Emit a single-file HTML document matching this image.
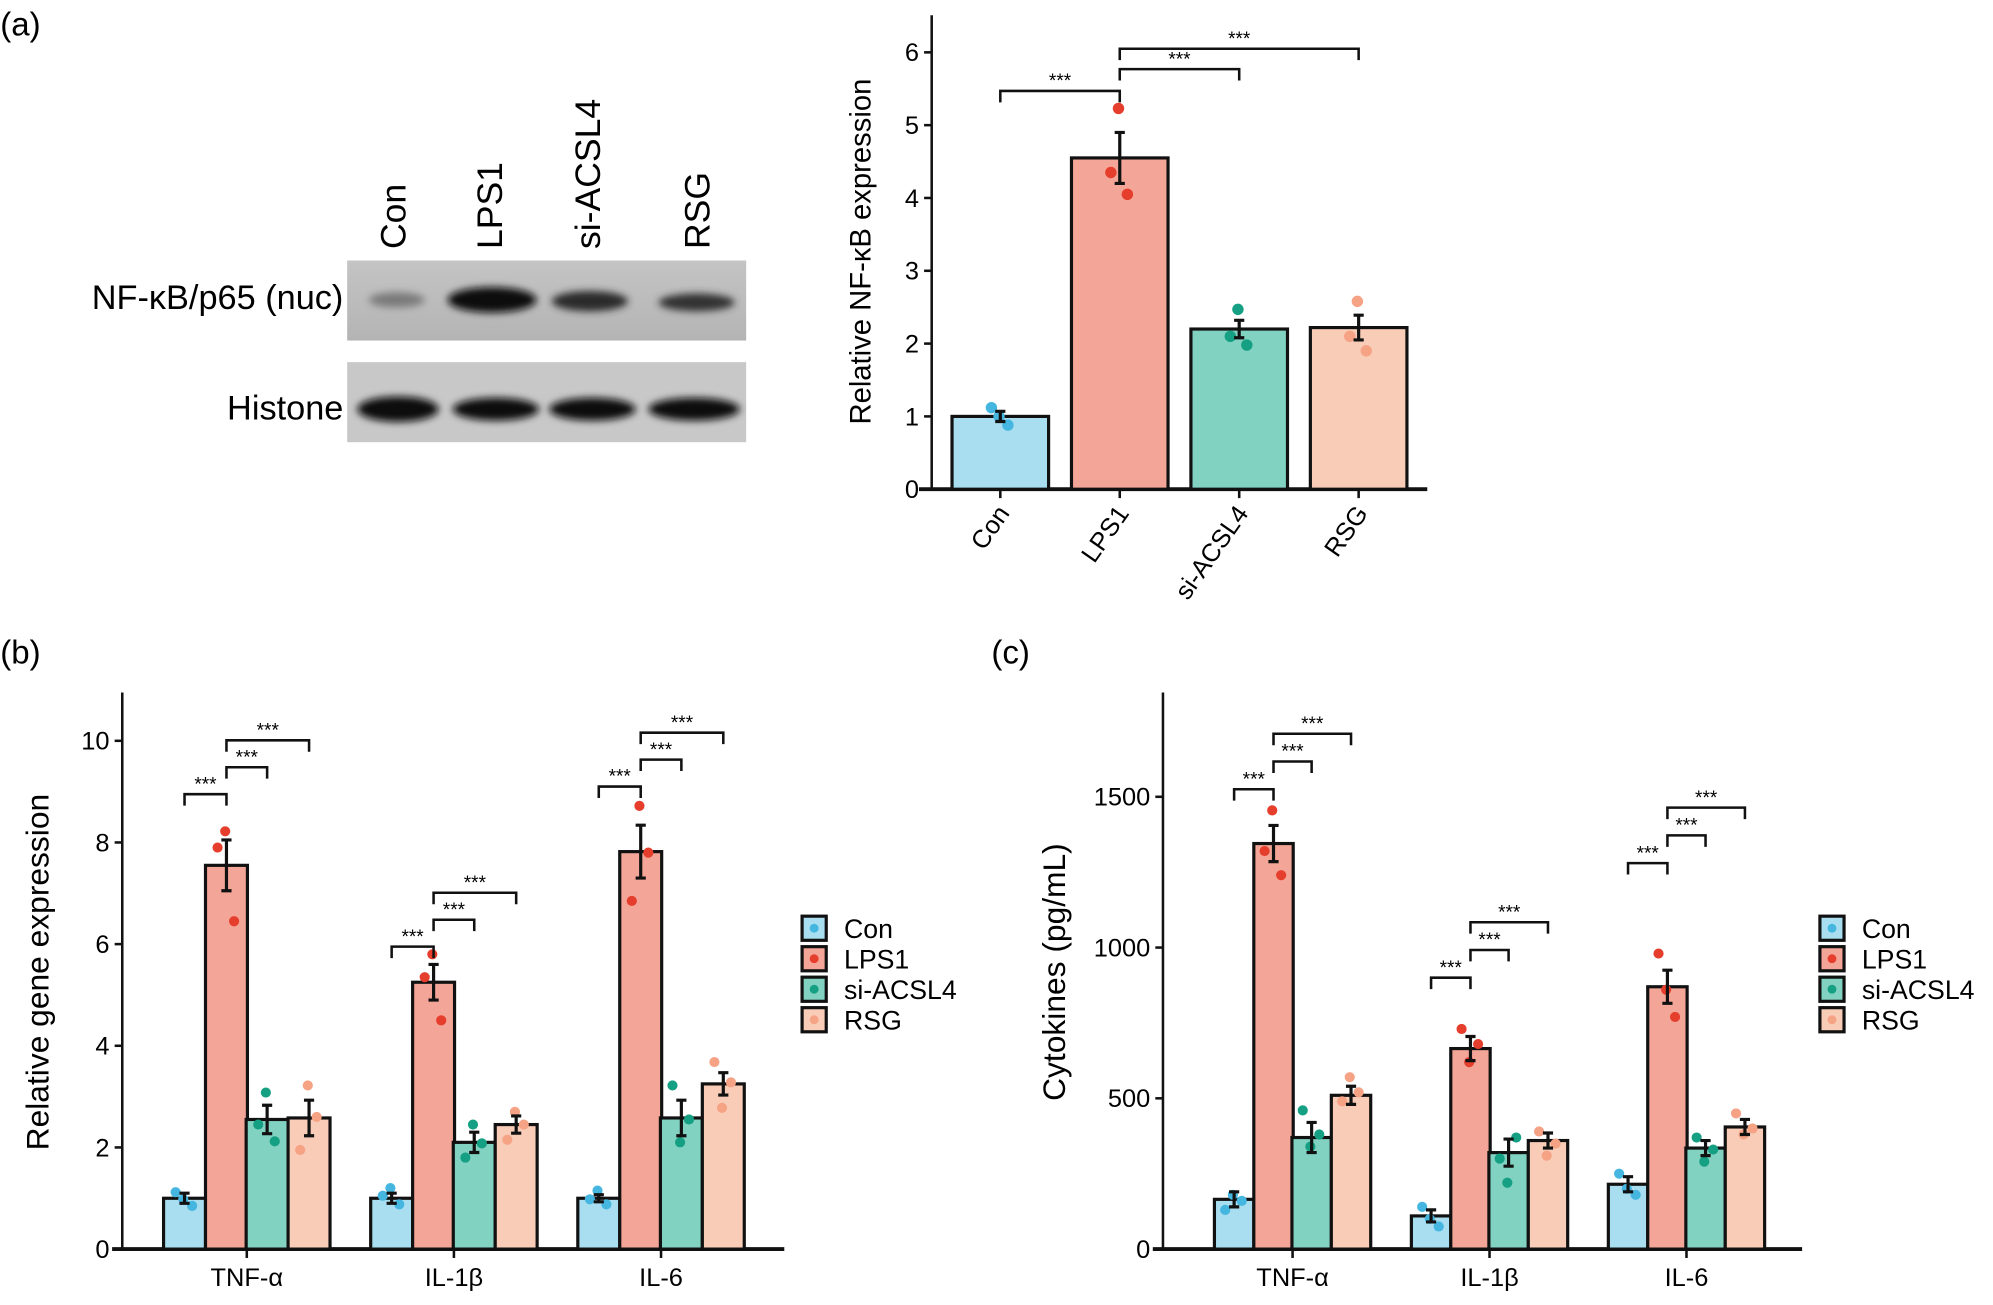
<!DOCTYPE html>
<html><head><meta charset="utf-8">
<style>
html,body{margin:0;padding:0;background:#fff;}
svg{display:block;font-family:"Liberation Sans",Arial,sans-serif;}
</style></head>
<body>
<svg id="fig" width="1993" height="1305" viewBox="0 0 1568 1027" xmlns="http://www.w3.org/2000/svg">
<defs>
<linearGradient id="blot1" x1="0" x2="0" y1="0" y2="1"><stop offset="0" stop-color="#c4c4c4"/><stop offset="1" stop-color="#b4b4b4"/></linearGradient>
<filter id="blur"><feGaussianBlur stdDeviation="3"/></filter>
</defs>
<text x="0" y="28" font-size="26">(a)</text>
<text x="0" y="522" font-size="26">(b)</text>
<text x="780" y="522" font-size="26">(c)</text>

<g>
<rect x="273" y="205" width="314" height="63" fill="url(#blot1)"/>
<rect x="273" y="285" width="314" height="63" fill="#c8c8c8"/>
<g filter="url(#blur)">
<ellipse cx="312" cy="236" rx="22" ry="6" fill="#7a7a7a"/>
<ellipse cx="387" cy="236" rx="35" ry="10" fill="#111"/>
<ellipse cx="464" cy="237" rx="30" ry="8" fill="#2a2a2a"/>
<ellipse cx="548" cy="238" rx="30" ry="7" fill="#333"/>
<ellipse cx="313" cy="322" rx="32" ry="10" fill="#0a0a0a"/>
<ellipse cx="390" cy="322" rx="34" ry="9" fill="#111"/>
<ellipse cx="466" cy="322" rx="34" ry="9" fill="#111"/>
<ellipse cx="546" cy="322" rx="36" ry="9" fill="#111"/>
</g>
<text x="270" y="243" font-size="27" text-anchor="end">NF-κB/p65 (nuc)</text>
<text x="270" y="330" font-size="27" text-anchor="end">Histone</text>
<text transform="translate(319,196) rotate(-90)" font-size="28">Con</text>
<text transform="translate(395,196) rotate(-90)" font-size="28">LPS1</text>
<text transform="translate(472,196) rotate(-90)" font-size="28">si-ACSL4</text>
<text transform="translate(558,196) rotate(-90)" font-size="28">RSG</text>
</g>
<g id="pa"></g>
<g id="pb"></g>
<g id="pc"></g>
</svg>
<script>
const groupsA = ["Con","LPS1","si-ACSL4","RSG"];
const meansA = [1.0, 4.55, 2.2, 2.22];
const errsA = [0.07, 0.35, 0.12, 0.17];
const ptsA = [[1.12,1.0,0.88],[4.35,5.23,4.05],[2.1,2.47,1.98],[2.1,2.58,1.9]];
const ticksA = [0,1,2,3,4,5,6];

const categories = ["TNF-α","IL-1β","IL-6"];
const seriesNames = ["Con","LPS1","si-ACSL4","RSG"];
const meansB = [[1.0,7.55,2.55,2.58],[1.0,5.25,2.1,2.45],[1.0,7.82,2.58,3.25]];
const errsB = [[0.1,0.5,0.28,0.35],[0.1,0.35,0.2,0.17],[0.07,0.52,0.35,0.22]];
const ptsB = [[[1.12,0.98,0.85],[7.9,8.22,6.45],[2.45,3.08,2.12],[1.95,3.22,2.6]],
              [[1.05,1.2,0.88],[5.35,5.8,4.5],[1.8,2.45,2.08],[2.15,2.7,2.45]],
              [[0.98,1.15,0.88],[6.85,8.72,7.8],[3.22,2.1,2.55],[3.68,2.78,3.28]]];
const bracketBaseB = [8.95, 5.95, 9.1];
const ticksB = [0,2,4,6,8,10];

const meansC = [[165,1345,370,510],[110,665,320,360],[215,870,335,405]];
const errsC = [[25,60,50,30],[20,40,45,25],[25,55,25,25]];
const ptsC = [[[130,180,160],[1320,1455,1240],[460,340,380],[490,570,520]],
              [[140,100,75],[730,620,680],[300,220,370],[390,310,350]],
              [[250,200,180],[980,860,770],[370,290,330],[450,380,400]]];
const bracketBaseC = [1525, 900, 1280];
const ticksC = [0,500,1000,1500];

const fills = ["#a8def0","#f3a597","#82d2c2","#f9ccb8"];
const dots = ["#45b6e0","#e63e2c","#16a083","#f5a285"];
const NS="http://www.w3.org/2000/svg";
function mk(parent,tag,attrs){const e=document.createElementNS(NS,tag);for(const k in attrs)e.setAttribute(k,attrs[k]);parent.appendChild(e);return e;}

function drawBar(g,cx,w,y,yv,err,pts,s,r){
  const bar=mk(g,"rect",{x:cx-w/2,y:y(yv),width:w,height:y(0)-y(yv),fill:fills[s],stroke:"#111","stroke-width":2.5});
  
  
  const offs=[-7,-1,6];
  pts.forEach((p,i)=>{const c=mk(g,"circle",{cx:cx+offs[i],cy:y(p),r:r,fill:dots[s]});
    
    });
  const eb=mk(g,"path",{d:`M${cx},${y(yv+err)}V${y(yv-err)}M${cx-4},${y(yv+err)}H${cx+4}M${cx-4},${y(yv-err)}H${cx+4}`,stroke:"#111","stroke-width":2.5,fill:"none"});
  
  
}
function bracket(g,x1,x2,yy){
  const b=mk(g,"path",{d:`M${x1},${yy+9}V${yy}H${x2}V${yy+9}`,stroke:"#111","stroke-width":2,fill:"none"});
  
  
  const t=mk(g,"text",{x:(x1+x2)/2,y:yy-3,"font-size":15,"text-anchor":"middle"});t.textContent="***";
  
  
}
function yAxis(g,ax,top,bot,ticks,y,fs){
  mk(g,"line",{x1:ax,x2:ax,y1:top,y2:bot,stroke:"#111","stroke-width":2});
  ticks.forEach(t=>{mk(g,"line",{x1:ax-6,x2:ax,y1:y(t),y2:y(t),stroke:"#111","stroke-width":2});
    const tx=mk(g,"text",{x:ax-10,y:y(t)+7,"font-size":fs,"text-anchor":"end"});tx.textContent=t;
    
    });
}
(function(){
  const g=document.getElementById("pa");
  const y=v=>385-v*57.3, x=i=>787+i*94;
  yAxis(g,733,12,385,ticksA,y,20);
  mk(g,"line",{x1:723,x2:1123,y1:385,y2:385,stroke:"#111","stroke-width":3});
  groupsA.forEach((n,i)=>{drawBar(g,x(i),76,y,meansA[i],errsA[i],ptsA[i],i,4.5);
    mk(g,"line",{x1:x(i),x2:x(i),y1:385,y2:392,stroke:"#111","stroke-width":2});
    const t=mk(g,"text",{transform:`translate(${x(i)+8},${404}) rotate(-55)`,"font-size":20,"text-anchor":"end"});t.textContent=n;
    
    });
  bracket(g,x(0),x(1),y(5.47));bracket(g,x(1),x(2),y(5.77));bracket(g,x(1),x(3),y(6.05));
  const yl=mk(g,"text",{transform:"translate(685,198) rotate(-90)","font-size":23,"text-anchor":"middle"});yl.textContent="Relative NF-κB expression";
  
  
})();
function grouped(id,ax,xEnd,gx,bw,offs,y,ticks,means,errs,pts,bases,step,title,titleX,legX){
  const g=document.getElementById(id);
  yAxis(g,ax,545,983,ticks,y,20);
  mk(g,"line",{x1:ax-8,x2:xEnd,y1:983,y2:983,stroke:"#111","stroke-width":3});
  categories.forEach((c,gi)=>{
    const cx=gx[gi];
    seriesNames.forEach((s,si)=>drawBar(g,cx+offs[si],bw,y,means[gi][si],errs[gi][si],pts[gi][si],si,4));
    mk(g,"line",{x1:cx,x2:cx,y1:983,y2:990,stroke:"#111","stroke-width":2});
    const t=mk(g,"text",{x:cx,y:1012,"font-size":20,"text-anchor":"middle"});t.textContent=c;
    
    
    for(let k=0;k<3;k++)bracket(g,cx+offs[1],cx+offs[k==0?0:k+1],y(bases[gi]+step*k));
  });
  const yl=mk(g,"text",{transform:`translate(${titleX},765) rotate(-90)`,"font-size":25,"text-anchor":"middle"});yl.textContent=title;
  
  
  seriesNames.forEach((s,i)=>{
    const yy=721+i*24;
    const lg=mk(g,"g",{});
    
    
    mk(lg,"rect",{x:legX,y:yy,width:19,height:19,fill:fills[i],stroke:"#111","stroke-width":2.5});
    mk(lg,"circle",{cx:legX+9.5,cy:yy+9.5,r:3.5,fill:dots[i]});
    const t=mk(lg,"text",{x:legX+33,y:yy+17,"font-size":21});t.textContent=s;
  });
}
grouped("pb",96,617,[194,357,520],33,[-49,-16,16,49],v=>983-v*40,ticksB,meansB,errsB,ptsB,bracketBaseB,0.53,"Relative gene expression",38,631);
grouped("pc",915,1418,[1017,1172,1327],31,[-46,-15,15,46],v=>983-v*0.2373,ticksC,meansC,errsC,ptsC,bracketBaseC,92,"Cytokines (pg/mL)",838,1432);
</script>
</body></html>
